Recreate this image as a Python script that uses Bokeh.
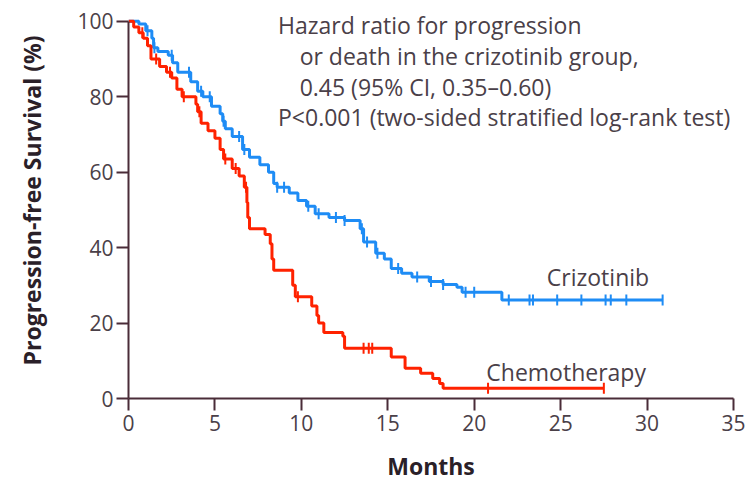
import numpy as np
from bokeh.plotting import figure
from bokeh.models import Range1d, Label, FixedTicker
from bokeh.embed import file_html
from bokeh.resources import INLINE

# ---- data ----
criz_t = [0, 0.6, 1.0, 1.35, 1.45, 1.7, 2.3, 2.55, 2.85, 3.6, 4.0, 4.3, 4.8, 5.3, 5.45, 5.6,
          6.0, 6.6, 7.0, 7.6, 8.1, 8.4, 8.6, 9.3, 9.8, 10.3, 10.8, 11.6, 12.5, 13.4, 13.6,
          14.3, 14.8, 15.2, 15.8, 16.4, 17.4, 18.2, 19.0, 19.3, 21.6, 30.9]
criz_s = [100, 99.3, 97.5, 95.5, 93, 92, 91, 89, 86.5, 84, 81.5, 80, 77.5, 75.5, 73.5, 71.5,
          69.5, 66, 64, 62, 60, 57, 56, 54.5, 52.5, 51, 49, 48, 47.2, 45, 41.5,
          38.5, 37, 34.5, 33.2, 32.2, 31, 30.2, 29.5, 28.2, 26.1, 26.1]
criz_cens = [1.1, 1.5, 2.5, 3.5, 4.2, 4.7, 5.5, 6.4, 6.7, 8.6, 9.0, 10.4, 11.0, 12.0, 12.5,
             13.5, 13.8, 14.4, 15.6, 16.7, 17.5, 18.2, 19.5, 20.0, 22.0, 23.2, 23.4, 24.8,
             26.2, 27.6, 27.9, 28.8, 30.9]

chemo_t = [0, 0.3, 0.6, 0.85, 1.1, 1.3, 1.8, 2.2, 2.5, 2.8, 3.1, 3.9, 4.0, 4.2, 4.6, 5.0,
           5.3, 5.5, 6.0, 6.4, 6.7, 6.85, 6.9, 7.0, 7.9, 8.2, 8.3, 8.4, 9.5, 9.65, 10.6,
           10.9, 11.0, 11.3, 12.4, 12.5, 15.2, 16.0, 16.9, 17.6, 18.0, 18.2, 27.5]
chemo_s = [100, 98.5, 97, 95.5, 93.5, 90, 88, 86.5, 85, 82, 80, 78, 76, 73, 71, 69,
           66, 63.5, 61, 59, 56, 52, 48, 45, 43.5, 41, 37, 34, 30, 27, 24.5,
           22, 20, 17.5, 16.5, 13.3, 11, 8.0, 6.7, 5.3, 4.0, 2.7, 2.7]
chemo_cens = [0.8, 1.6, 2.4, 3.2, 4.1, 5.6, 6.2, 6.8, 9.8, 13.6, 13.9, 14.1, 20.8, 27.5]

x_ticks = [0, 5, 10, 15, 20, 25, 30, 35]
y_ticks = [0, 20, 40, 60, 80, 100]

BLUE = "#1e8cf5"
RED = "#ff2200"
AXIS = "#4a2c38"
TXT = "#4a4048"
FONT = "Open Sans"


def at(times, surv, t):
    i = np.searchsorted(np.asarray(times), t, side="right") - 1
    return [surv[k] for k in np.atleast_1d(i)]


p = figure(width=753, height=485, output_backend="svg", toolbar_location=None,
           x_range=Range1d(0, 35), y_range=Range1d(0, 105),
           min_border_left=128, min_border_right=20, min_border_top=2, min_border_bottom=87)
p.outline_line_color = None
p.xgrid.visible = False
p.ygrid.visible = False
p.background_fill_color = "white"
p.border_fill_color = "white"

for ax in (p.xaxis[0], p.yaxis[0]):
    ax.axis_line_color = AXIS
    ax.axis_line_width = 2
    ax.major_tick_line_color = AXIS
    ax.major_tick_line_width = 2
    ax.major_tick_out = 12
    ax.major_tick_in = 0
    ax.minor_tick_line_color = None
    ax.major_label_text_font = FONT
    ax.major_label_text_font_size = "21px"
    ax.major_label_text_color = TXT
    ax.axis_label_text_font = FONT
    ax.axis_label_text_font_style = "bold"
    ax.axis_label_text_color = "#2a2028"

p.xaxis.ticker = FixedTicker(ticks=x_ticks)
p.yaxis.ticker = FixedTicker(ticks=y_ticks)
p.yaxis.bounds = (0, 100)
p.xaxis.axis_label = "Months"
p.xaxis.axis_label_text_font_size = "23px"
p.xaxis.axis_label_standoff = 16
p.yaxis.axis_label = "Progression-free Survival (%)"
p.yaxis.axis_label_text_font_size = "23px"
p.yaxis.axis_label_standoff = 26
p.xaxis.major_label_standoff = 4
p.yaxis.major_label_standoff = 3

p.step(criz_t, criz_s, mode="after", line_color=BLUE, line_width=3)
p.step(chemo_t, chemo_s, mode="after", line_color=RED, line_width=3)
p.scatter(criz_cens, at(criz_t, criz_s, criz_cens), marker="dash", angle=np.pi / 2,
          size=11, line_color=BLUE, line_width=2)
p.scatter(chemo_cens, at(chemo_t, chemo_s, chemo_cens), marker="dash", angle=np.pi / 2,
          size=11, line_color=RED, line_width=2)

lines = [("Hazard ratio for progression", 8.65, 99.0),
         ("or death in the crizotinib group,", 9.9, 90.7),
         ("0.45 (95% CI, 0.35\u20130.60)", 9.9, 82.5),
         ("P<0.001 (two-sided stratified log-rank test)", 8.65, 74.6)]
for txt, x, y in lines:
    p.add_layout(Label(x=x, y=y, text=txt, text_font=FONT, text_font_size="23px",
                       text_color=TXT, text_baseline="middle", text_align="left"))

p.add_layout(Label(x=24.2, y=32.2, text="Crizotinib", text_font=FONT, text_font_size="23px",
                   text_color=TXT, text_baseline="middle"))
p.add_layout(Label(x=20.7, y=7.0, text="Chemotherapy", text_font=FONT, text_font_size="23px",
                   text_color=TXT, text_baseline="middle"))

open("out.html", "w").write(file_html(p, INLINE))
